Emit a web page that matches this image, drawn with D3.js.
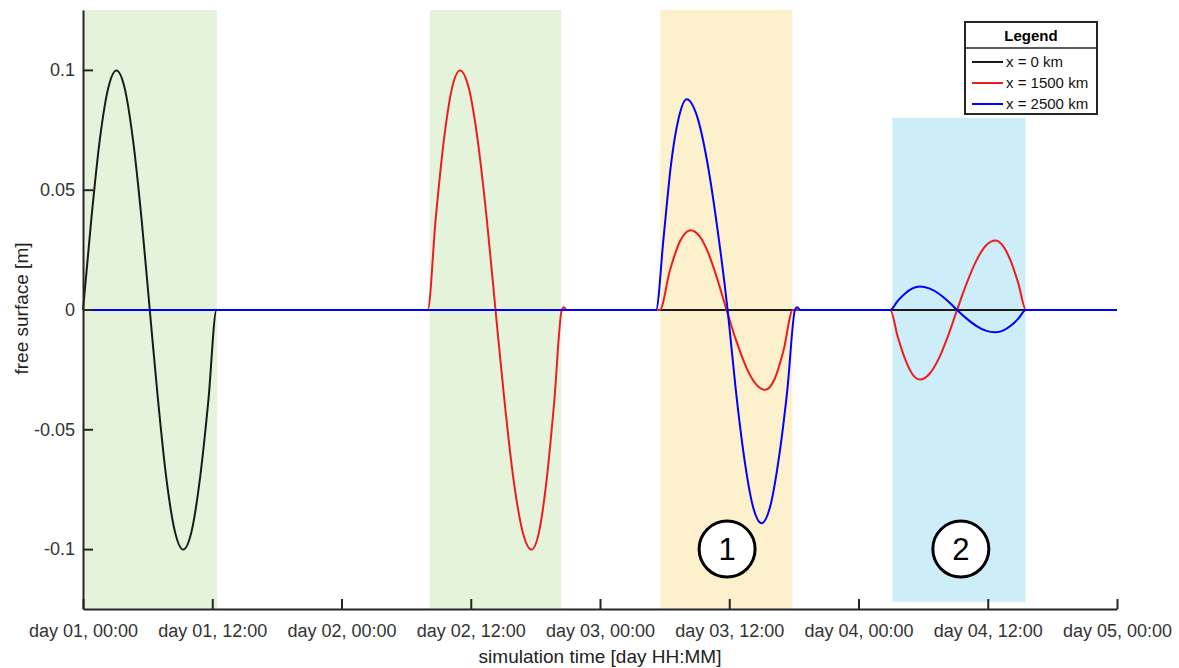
<!DOCTYPE html>
<html>
<head>
<meta charset="utf-8">
<script src="https://cdn.jsdelivr.net/npm/d3@7"></script>
<style>
  body { margin: 0; background: #fff; }
  text { font-family: "Liberation Sans", Arial, sans-serif; }
</style>
</head>
<body>
<div id="app"></div>
<script>
// simulation time in hours since day 01, 00:00
const tickHours = [0, 12, 24, 36, 48, 60, 72, 84, 96];
const tickLabels = ["day 01, 00:00", "day 01, 12:00", "day 02, 00:00", "day 02, 12:00",
  "day 03, 00:00", "day 03, 12:00", "day 04, 00:00", "day 04, 12:00", "day 05, 00:00"];
const yTicks = [-0.1, -0.05, 0, 0.05, 0.1];
const yTickLabels = ["-0.1", "-0.05", "0", "0.05", "0.1"];

// shaded windows (hours, free surface)
const windowStart = [0, 32.2, 53.6, 75.15];
const windowEnd = [12.43, 44.4, 65.86, 87.5];
const windowTop = [0.125, 0.125, 0.125, 0.08];
const windowBottom = [-0.125, -0.125, -0.125, -0.122];

// x = 0 km
const hours0 = [0, 0.78, 1.55, 2.33, 3.1, 3.88, 4.65, 5.43, 6.2, 6.98, 7.75, 8.53, 9.3, 10.08, 10.85, 11.63, 12.4, 96];
const eta0 = [0, 0.0383, 0.0707, 0.0924, 0.1, 0.0924, 0.0707, 0.0383, 0, -0.0383, -0.0707, -0.0924, -0.1,
  -0.0924, -0.0707, -0.0383, 0, 0];

// x = 1500 km
const hours1500 = [0, 32.0, 32.75, 33.5, 34.25, 35.0, 35.83, 36.65, 37.48, 38.3, 39.14, 39.97, 40.81, 41.65,
  42.35, 43.05, 43.75, 44.45, 44.65, 44.9,
  53.55, 54.5, 55.45, 56.4, 57.24, 58.07, 58.9, 59.75, 60.65, 61.55, 62.45, 63.35, 64.2, 65.05, 65.9,
  74.95, 75.64, 76.33, 77.01, 77.7, 78.56, 79.43, 80.29, 81.15, 82.04, 82.93, 83.81, 84.7, 85.41, 86.13, 86.84, 87.55, 96];
const eta1500 = [0, 0, 0.0383, 0.0707, 0.0924, 0.1, 0.0924, 0.0707, 0.0383, 0, -0.0383, -0.0707, -0.0924, -0.1,
  -0.0924, -0.0707, -0.0383, 0, 0.0012, 0,
  0, 0.0167, 0.0289, 0.0333, 0.0308, 0.0236, 0.0128, 0, -0.0128, -0.0236, -0.0308, -0.0333, -0.0289, -0.0167, 0,
  0, -0.0111, -0.0205, -0.0268, -0.029, -0.0268, -0.0205, -0.0111, 0, 0.0111, 0.0205, 0.0268, 0.029, 0.0268, 0.0205, 0.0111, 0, 0];

// x = 2500 km
const hours2500 = [0, 53.2, 53.9, 54.6, 55.3, 56.05, 57.0, 57.95, 58.9, 59.85, 60.6, 61.4, 62.2, 63.0,
  63.8, 64.6, 65.4, 66.1, 66.3, 66.6,
  74.95, 75.64, 76.33, 77.01, 77.7, 78.56, 79.43, 80.29, 81.15, 82.04, 82.93, 83.81, 84.7, 85.41, 86.13, 86.84, 87.55, 96];
const eta2500 = [0, 0, 0.03, 0.061, 0.08, 0.088, 0.081, 0.062, 0.034, 0, -0.033, -0.062, -0.082, -0.089,
  -0.082, -0.062, -0.033, 0, 0.0012, 0,
  0, 0.0038, 0.0069, 0.009, 0.0098, 0.009, 0.0069, 0.0038, 0, -0.0036, -0.0066, -0.0086, -0.0093, -0.0086, -0.0066, -0.0036, 0, 0];

const legendLabels = ["x = 0 km", "x = 1500 km", "x = 2500 km"];
const markerLabels = ["1", "2"];
const markerHours = [59.8, 81.5];
const markerEta = [-0.1, -0.1];

// styles
const windowFills = ["#e5f3da", "#e5f3da", "#fdf0cd", "#cdedf9"];
const lineColors = ["#1a1a1a", "#ee1c1c", "#0000ff"];
const axisColor = "#262626";

const width = 1179, height = 668;
const margin = { top: 10, right: 62, bottom: 59, left: 83 };

const x = d3.scaleLinear().domain([0, 96]).range([margin.left, width - margin.right]);
const y = d3.scaleLinear().domain([-0.125, 0.125]).range([height - margin.bottom, margin.top]);

const svg = d3.select("#app").append("svg")
  .attr("width", width)
  .attr("height", height)
  .attr("viewBox", [0, 0, width, height]);

// shaded windows
svg.append("g")
  .selectAll("rect")
  .data(windowStart)
  .join("rect")
  .attr("x", (d) => x(d))
  .attr("y", (d, i) => y(windowTop[i]))
  .attr("width", (d, i) => x(windowEnd[i]) - x(d))
  .attr("height", (d, i) => y(windowBottom[i]) - y(windowTop[i]))
  .attr("fill", (d, i) => windowFills[i]);

const series = [
  { hours: hours0, eta: eta0 },
  { hours: hours1500, eta: eta1500 },
  { hours: hours2500, eta: eta2500 },
];

const line = d3.line()
  .x((d) => x(d[0]))
  .y((d) => y(d[1]))
  .curve(d3.curveMonotoneX);

// half-pixel nudge keeps the zero line crisp
svg.append("g")
  .attr("transform", "translate(0,0.5)")
  .attr("fill", "none")
  .selectAll("path")
  .data(series)
  .join("path")
  .attr("stroke", (d, i) => lineColors[i])
  .attr("stroke-width", 2)
  .attr("d", (s) => line(s.hours.map((h, i) => [h, s.eta[i]])));

// axes
const xAxis = (g) =>
  g
    .attr("transform", `translate(0,${height - margin.bottom})`)
    .call(d3.axisBottom(x)
      .tickValues(tickHours)
      .tickFormat((d, i) => tickLabels[i])
      .tickSizeInner(-10)
      .tickSizeOuter(0)
      .tickPadding(15))
    .call((g) => g.selectAll("text").attr("font-size", 18).attr("fill", "#333"));

const yAxis = (g) =>
  g
    .attr("transform", `translate(${margin.left},0)`)
    .call(d3.axisLeft(y)
      .tickValues(yTicks)
      .tickFormat((d, i) => yTickLabels[i])
      .tickSizeInner(-10)
      .tickSizeOuter(0)
      .tickPadding(8))
    .call((g) => g.selectAll("text").attr("font-size", 18).attr("fill", "#333"));

svg.append("g").call(xAxis)
  .call((g) => g.selectAll(".domain, .tick line").attr("stroke", axisColor).attr("stroke-width", 2));
svg.append("g").call(yAxis)
  .call((g) => g.selectAll(".domain, .tick line").attr("stroke", axisColor).attr("stroke-width", 2));

svg.append("text")
  .attr("x", (margin.left + width - margin.right) / 2)
  .attr("y", 663)
  .attr("text-anchor", "middle")
  .attr("font-size", 19)
  .attr("fill", "#222")
  .text("simulation time [day HH:MM]");

svg.append("text")
  .attr("transform", `translate(28,${y(0) - 1}) rotate(-90)`)
  .attr("text-anchor", "middle")
  .attr("font-size", 19)
  .attr("fill", "#222")
  .text("free surface [m]");

// legend
const legend = svg.append("g").attr("transform", "translate(965,22)");
legend.append("rect")
  .attr("width", 132).attr("height", 92)
  .attr("fill", "#fff").attr("stroke", axisColor).attr("stroke-width", 2);
legend.append("line")
  .attr("x1", 0).attr("x2", 132).attr("y1", 26).attr("y2", 26)
  .attr("stroke", axisColor).attr("stroke-width", 1.5);
legend.append("text")
  .attr("x", 66).attr("y", 19)
  .attr("text-anchor", "middle")
  .attr("font-size", 15).attr("font-weight", "bold")
  .text("Legend");
const rows = legend.selectAll("g.row")
  .data(legendLabels)
  .join("g")
  .attr("class", "row")
  .attr("transform", (d, i) => `translate(0,${40 + i * 21})`);
rows.append("line")
  .attr("x1", 7).attr("x2", 38)
  .attr("stroke", (d, i) => lineColors[i]).attr("stroke-width", 2);
rows.append("text")
  .attr("x", 41).attr("dy", "0.35em")
  .attr("font-size", 15)
  .attr("fill", "#111")
  .text((d) => d);

// numbered markers
const markers = svg.append("g")
  .selectAll("g")
  .data(markerLabels)
  .join("g")
  .attr("transform", (d, i) => `translate(${x(markerHours[i])},${y(markerEta[i])})`);
markers.append("circle")
  .attr("r", 28)
  .attr("fill", "#fff")
  .attr("stroke", "#000")
  .attr("stroke-width", 3);
markers.append("text")
  .attr("text-anchor", "middle")
  .attr("dy", "0.36em")
  .attr("font-size", 31)
  .text((d) => d);
</script>
</body>
</html>
